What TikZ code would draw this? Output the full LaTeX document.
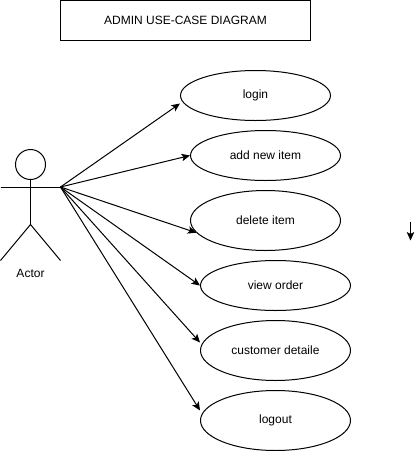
\documentclass[tikz,border=0pt]{standalone}
\usepackage{fontspec}
\setmainfont{Liberation Sans}
\usetikzlibrary{shapes.geometric,arrows.meta,calc}
\tikzset{
  usecase/.style={draw=black,line width=1pt,ellipse,inner sep=0pt,minimum width=150pt,font=\fontsize{12}{14}\selectfont},
  titlebox/.style={draw=black,line width=1pt,inner sep=0pt,minimum width=250pt,minimum height=40pt,font=\fontsize{12}{14}\selectfont},
  link/.style={line width=1pt,-{Stealth[length=8.5pt,width=7.5pt,inset=2pt]}},
  figure/.style={line width=1pt},
  caption/.style={inner sep=0pt,font=\fontsize{12}{14}\selectfont}
}
\begin{document}
\begin{tikzpicture}[x=1pt,y=-1pt]
\useasboundingbox (0,0) rectangle (419,451);
\begin{scope}[xshift=0.5pt,yshift=-0.5pt]
\node[titlebox] (title) at (185,20) {ADMIN USE-CASE DIAGRAM};
\node[usecase,minimum height=50pt] (login) at (255,95) {login};
\node[usecase,minimum height=50pt] (add) at (265,155) {add new item};
\node[usecase,minimum height=60pt] (delete) at (265,220) {delete item};
\node[usecase,minimum height=50pt] (view) at (275,285) {view order};
\node[usecase,minimum height=60pt] (customer) at (275,350) {customer detaile};
\node[usecase,minimum height=60pt] (logout) at (275,420) {logout};
% actor
\node[draw=black,line width=1pt,circle,inner sep=0pt,minimum size=30pt] (head) at (30,164) {};
\coordinate (armL) at (0,186.5);
\coordinate (armR) at (60,186.5);
\coordinate (hip) at (30,224);
\coordinate (footL) at (0,260);
\coordinate (footR) at (60,260);
\draw[figure] (head.south) -- (hip);
\draw[figure] (armL) -- (armR);
\draw[figure] (footL) -- (hip) -- (footR);
\node[caption] (actor) at (30,273) {Actor};
% connectors
\draw[link] (armR) -- ($(login.west)+(0,8)$);
\draw[link] (armR) -- (add.west);
\draw[link] (armR) -- (delete.190.7);
\draw[link] (armR) -- (view.west);
\draw[link] (armR) -- ($(customer.west)+(0,-8)$);
\draw[link] (armR) -- ($(logout.west)+(0,-10)$);
% free arrow
\coordinate (freeA) at (410,221);
\coordinate (freeB) at (410,240);
\draw[link] (freeA) -- (freeB);
\end{scope}
\end{tikzpicture}
\end{document}
